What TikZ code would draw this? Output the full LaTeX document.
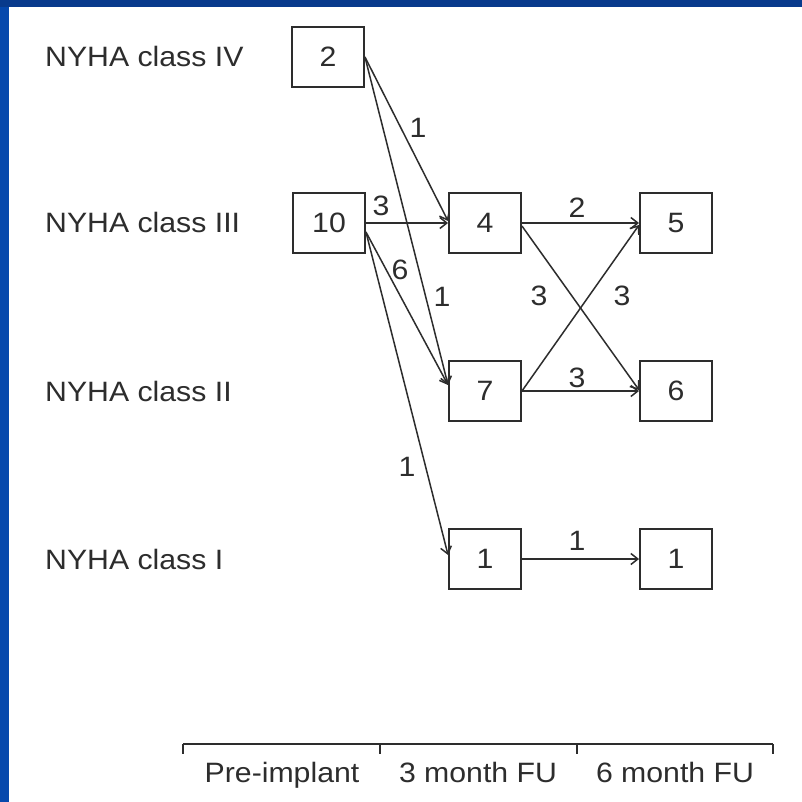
\documentclass[tikz,border=0pt]{standalone}
\usepackage{fontspec}
\setmainfont{Liberation Sans}[FakeStretch=1.08]
\usetikzlibrary{arrows.meta,calc}
\definecolor{topblue}{RGB}{8,58,140}
\definecolor{leftblue}{RGB}{6,72,172}
\definecolor{ink}{RGB}{45,45,45}
\tikzset{
  box/.style={draw=ink, line width=1.9pt, minimum width=72pt, minimum height=60pt, inner sep=0pt, text=ink, font=\fontsize{28}{30}\selectfont},
  rowlbl/.style={anchor=base west, inner sep=0pt, text=ink, font=\fontsize{28}{30}\selectfont},
  lbl/.style={inner sep=0pt, text=ink, font=\fontsize{28}{30}\selectfont},
  tlbl/.style={anchor=base, inner sep=0pt, text=ink, font=\fontsize{28}{30}\selectfont},
  arr/.style={draw=ink, line width=1.5pt, -{Straight Barb[length=7pt,width=11pt,line width=1.5pt]}},
  axis/.style={draw=ink, line width=1.9pt}
}
\begin{document}
\begin{tikzpicture}[x=1pt,y=-1pt]
\useasboundingbox (0,0) rectangle (802,802);
\fill[white] (0,0) rectangle (802,802);
\fill[leftblue] (0,0) rectangle (9,802);
\fill[topblue] (0,0) rectangle (802,7);

% row labels
\node[rowlbl] (r4) at (45,67) {NYHA class IV};
\node[rowlbl] (r3) at (45,233) {NYHA class III};
\node[rowlbl] (r2) at (45,401) {NYHA class II};
\node[rowlbl] (r1) at (45,569) {NYHA class I};

% boxes
\node[box] (b2)  at (328,57)  {2};
\node[box] (b10) at (329,223) {10};
\node[box] (b4)  at (485,223) {4};
\node[box] (b7)  at (485,391) {7};
\node[box] (b1m) at (485,559) {1};
\node[box] (b5)  at (676,223) {5};
\node[box] (b6)  at (676,391) {6};
\node[box] (b1s) at (676,559) {1};

% connectors
\draw[arr] (b2.east) -- ($(b4.west)+(0,-2)$);
\draw[arr] (b2.east) -- ($(b7.west)+(0,-6)$);
\draw[arr] (b10.east) -- (b4.west);
\draw[arr] ($(b10.east)+(0,9)$) -- ($(b7.west)+(0,-6)$);
\draw[arr] ($(b10.east)+(0,9)$) -- ($(b1m.west)+(0,-4)$);
\draw[arr] (b4.east) -- (b5.west);
\draw[arr] ($(b4.east)+(0,3)$) -- ($(b6.west)+(0,-1)$);
\draw[arr] (b7.east) -- ($(b5.west)+(0,2)$);
\draw[arr] (b7.east) -- (b6.west);
\draw[arr] (b1m.east) -- (b1s.west);

% connector labels
\node[lbl] (l1) at (418,128) {1};
\node[lbl] (l2) at (381,206) {3};
\node[lbl] (l3) at (400,270) {6};
\node[lbl] (l4) at (442,297) {1};
\node[lbl] (l5) at (407,467) {1};
\node[lbl] (l6) at (577,208) {2};
\node[lbl] (l7) at (539,296) {3};
\node[lbl] (l8) at (622,296) {3};
\node[lbl] (l9) at (577,378) {3};
\node[lbl] (l10) at (577,541) {1};

% time axis
\coordinate (t0) at (183,744);
\coordinate (t1) at (380,744);
\coordinate (t2) at (577,744);
\coordinate (t3) at (773,744);
\draw[axis] (t0) -- (t3);
\foreach \t in {t0,t1,t2,t3} \draw[axis] (\t) -- ++(0,10);
\node[tlbl] (p0) at (282,782) {Pre-implant};
\node[tlbl] (p1) at (478,782) {3 month FU};
\node[tlbl] (p2) at (675,782) {6 month FU};
\end{tikzpicture}
\end{document}
